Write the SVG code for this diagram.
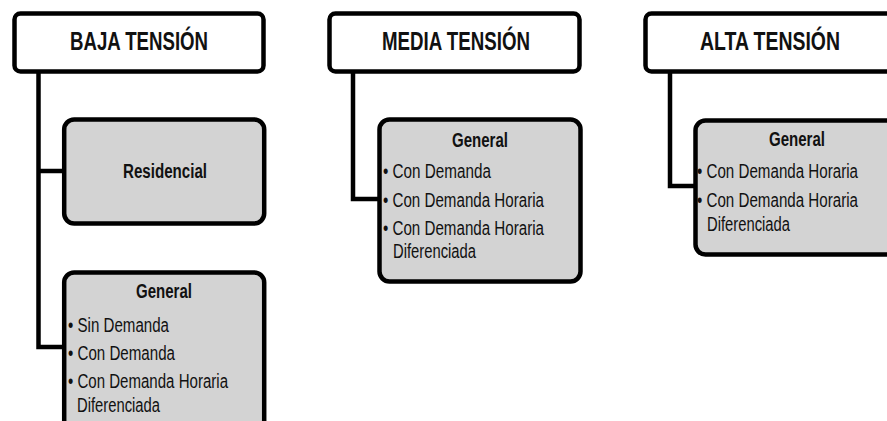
<svg xmlns="http://www.w3.org/2000/svg" width="887" height="421" viewBox="0 0 887 421">
<style>
.hdr{fill:#fff;stroke:#000;stroke-width:4.5}
.box{fill:#d3d3d3;stroke:#000;stroke-width:4.5}
.conn{fill:none;stroke:#000;stroke-width:4.5;stroke-linejoin:miter}
.ht{font-family:"Liberation Sans",Arial,sans-serif;font-weight:bold;font-size:26px;fill:#111;text-anchor:middle}
.bt{font-family:"Liberation Sans",Arial,sans-serif;font-weight:bold;font-size:20px;fill:#111;text-anchor:middle}
.t{font-family:"Liberation Sans",Arial,sans-serif;font-size:19.5px;fill:#111}
</style>
<rect width="887" height="421" fill="#fff"/>
<g id="connectors">
<path class="conn" d="M38.5 71 V347 H63"/>
<path class="conn" d="M38.5 171 H63"/>
<path class="conn" d="M353 71 V199 H378"/>
<path class="conn" d="M670 71 V186 H694"/>
</g>
<g id="baja-tension">
<rect class="hdr" x="14.5" y="13.5" width="249" height="58" rx="6"/>
<text class="ht" x="139" y="50" textLength="138" lengthAdjust="spacingAndGlyphs">BAJA TENSIÓN</text>
</g>
<g id="baja-residencial">
<rect class="box" x="64.2" y="119.5" width="200" height="104" rx="10"/>
<text class="bt" x="165" y="178" font-size="21" textLength="84" lengthAdjust="spacingAndGlyphs">Residencial</text>
</g>
<g id="baja-general">
<rect class="box" x="64.2" y="272.5" width="200" height="160" rx="10"/>
<text class="bt" x="164" y="298" textLength="56" lengthAdjust="spacingAndGlyphs">General</text>
<text class="t" x="68" y="332" textLength="101" lengthAdjust="spacingAndGlyphs">• Sin Demanda</text>
<text class="t" x="68" y="360" textLength="107" lengthAdjust="spacingAndGlyphs">• Con Demanda</text>
<text class="t" x="68" y="388" textLength="160" lengthAdjust="spacingAndGlyphs">• Con Demanda Horaria</text>
<text class="t" x="77" y="412" textLength="83" lengthAdjust="spacingAndGlyphs">Diferenciada</text>
</g>
<g id="media-tension">
<rect class="hdr" x="329.5" y="13.5" width="250" height="58" rx="6"/>
<text class="ht" x="456" y="50" textLength="148" lengthAdjust="spacingAndGlyphs">MEDIA TENSIÓN</text>
</g>
<g id="media-general">
<rect class="box" x="379.5" y="119.5" width="201" height="162" rx="10"/>
<text class="bt" x="480" y="147" textLength="56" lengthAdjust="spacingAndGlyphs">General</text>
<text class="t" x="383" y="178" textLength="108" lengthAdjust="spacingAndGlyphs">• Con Demanda</text>
<text class="t" x="383" y="207" textLength="161" lengthAdjust="spacingAndGlyphs">• Con Demanda Horaria</text>
<text class="t" x="383" y="235" textLength="161" lengthAdjust="spacingAndGlyphs">• Con Demanda Horaria</text>
<text class="t" x="393" y="258" textLength="83" lengthAdjust="spacingAndGlyphs">Diferenciada</text>
</g>
<g id="alta-tension">
<rect class="hdr" x="645.5" y="13.5" width="250" height="58" rx="6"/>
<text class="ht" x="770" y="50" textLength="140" lengthAdjust="spacingAndGlyphs">ALTA TENSIÓN</text>
</g>
<g id="alta-general">
<rect class="box" x="695.5" y="120.5" width="203" height="134" rx="10"/>
<text class="bt" x="797" y="146" textLength="56" lengthAdjust="spacingAndGlyphs">General</text>
<text class="t" x="697" y="178" textLength="161" lengthAdjust="spacingAndGlyphs">• Con Demanda Horaria</text>
<text class="t" x="697" y="207" textLength="161" lengthAdjust="spacingAndGlyphs">• Con Demanda Horaria</text>
<text class="t" x="707" y="231" textLength="83" lengthAdjust="spacingAndGlyphs">Diferenciada</text>
</g>
</svg>
